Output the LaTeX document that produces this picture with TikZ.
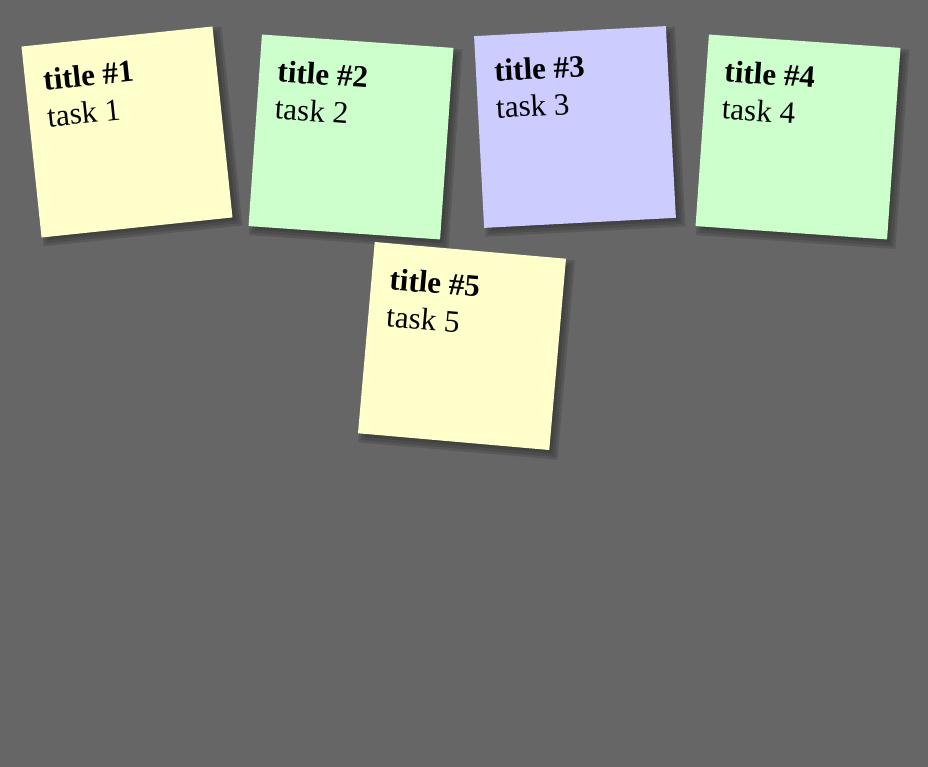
\documentclass[tikz,border=0pt]{standalone}
\usepackage{fontspec}
\usepackage{xcolor}
\usepackage{tikz}
\setmainfont{Liberation Serif}
\definecolor{board}{RGB}{102, 102, 102}
\definecolor{shade}{RGB}{33, 33, 33}
\definecolor{yellownote}{RGB}{255, 255, 204}
\definecolor{greennote}{RGB}{204, 255, 204}
\definecolor{bluenote}{RGB}{204, 204, 255}

\tikzset{
  note/.style={minimum width=144pt, minimum height=144pt, inner sep=0pt, outer sep=0pt},
  noteshadow/.style={fill=shade, opacity=0.2},
  titletext/.style={anchor=base west, inner sep=0pt, font=\fontsize{23.3}{27}\selectfont\bfseries},
  tasktext/.style={anchor=base west, inner sep=0pt, font=\fontsize{23.3}{27}\selectfont}
}

\begin{document}
\begin{tikzpicture}[x=0.75pt,y=-0.75pt]
%Board
\fill[board] (0,0) rectangle (928,767);

%Shape: Note 1
\begin{scope}[shift={(127,132)}, rotate=6, transform shape]
\fill[noteshadow] (-95,-95) rectangle (105,105);
\fill[noteshadow] (-92.5,-92.5) rectangle (102.5,102.5);
\fill[noteshadow] (-89.5,-89.5) rectangle (99.5,99.5);
\fill[noteshadow] (-87,-87) rectangle (97,97);
\node[note, fill=yellownote] (note1) at (0,0) {};
% Text Node
\node[titletext] (title1) at (-78,-50) {title \#1};
% Text Node
\node[tasktext] (task1) at (-78,-13) {task 1};
\end{scope}

%Shape: Note 2
\begin{scope}[shift={(351,137)}, rotate=-4, transform shape]
\fill[noteshadow] (-95,-95) rectangle (105,105);
\fill[noteshadow] (-92.5,-92.5) rectangle (102.5,102.5);
\fill[noteshadow] (-89.5,-89.5) rectangle (99.5,99.5);
\fill[noteshadow] (-87,-87) rectangle (97,97);
\node[note, fill=greennote] (note2) at (0,0) {};
% Text Node
\node[titletext] (title2) at (-78,-50) {title \#2};
% Text Node
\node[tasktext] (task2) at (-78,-13) {task 2};
\end{scope}

%Shape: Note 3
\begin{scope}[shift={(575,127)}, rotate=3, transform shape]
\fill[noteshadow] (-95,-95) rectangle (105,105);
\fill[noteshadow] (-92.5,-92.5) rectangle (102.5,102.5);
\fill[noteshadow] (-89.5,-89.5) rectangle (99.5,99.5);
\fill[noteshadow] (-87,-87) rectangle (97,97);
\node[note, fill=bluenote] (note3) at (0,0) {};
% Text Node
\node[titletext] (title3) at (-78,-50) {title \#3};
% Text Node
\node[tasktext] (task3) at (-78,-13) {task 3};
\end{scope}

%Shape: Note 4
\begin{scope}[shift={(798,137)}, rotate=-4, transform shape]
\fill[noteshadow] (-95,-95) rectangle (105,105);
\fill[noteshadow] (-92.5,-92.5) rectangle (102.5,102.5);
\fill[noteshadow] (-89.5,-89.5) rectangle (99.5,99.5);
\fill[noteshadow] (-87,-87) rectangle (97,97);
\node[note, fill=greennote] (note4) at (0,0) {};
% Text Node
\node[titletext] (title4) at (-78,-50) {title \#4};
% Text Node
\node[tasktext] (task4) at (-78,-13) {task 4};
\end{scope}

%Shape: Note 5
\begin{scope}[shift={(462,346)}, rotate=-5, transform shape]
\fill[noteshadow] (-95,-95) rectangle (105,105);
\fill[noteshadow] (-92.5,-92.5) rectangle (102.5,102.5);
\fill[noteshadow] (-89.5,-89.5) rectangle (99.5,99.5);
\fill[noteshadow] (-87,-87) rectangle (97,97);
\node[note, fill=yellownote] (note5) at (0,0) {};
% Text Node
\node[titletext] (title5) at (-78,-50) {title \#5};
% Text Node
\node[tasktext] (task5) at (-78,-13) {task 5};
\end{scope}

\end{tikzpicture}
\end{document}
